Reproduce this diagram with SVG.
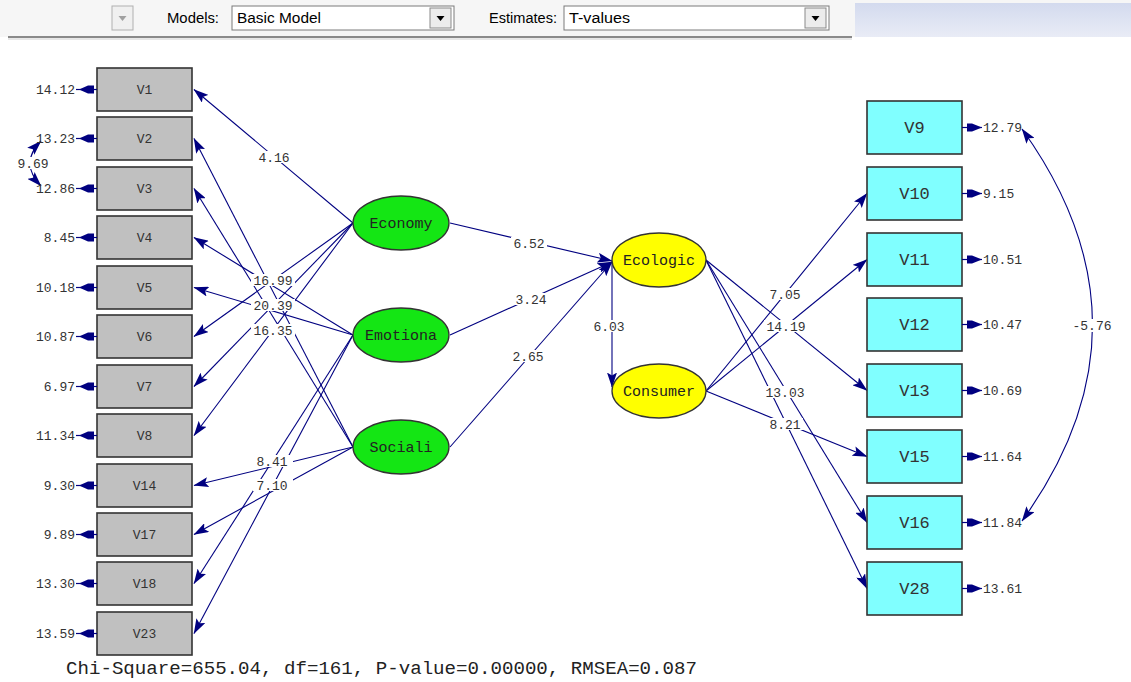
<svg xmlns="http://www.w3.org/2000/svg" width="1131" height="682" viewBox="0 0 1131 682">
<defs>
<linearGradient id="pg" x1="0" y1="0" x2="0" y2="1"><stop offset="0" stop-color="#d3daee"/><stop offset="1" stop-color="#e9ecf6"/></linearGradient>
<marker id="ah" markerWidth="15" markerHeight="10" refX="14.5" refY="5" orient="auto-start-reverse" markerUnits="userSpaceOnUse"><path d="M0,0 L15,5 L0,10 L3,5 Z" fill="#000080"/></marker>
</defs>
<style>
.tb{font-family:"Liberation Sans",Arial,sans-serif;font-size:14px;fill:#000}
.cn line,.cn path{stroke:#000080;stroke-width:1.1;fill:none}
.arr{marker-end:url(#ah)}
.lb{font-family:"Liberation Mono","Courier New",monospace;font-size:13px;fill:#333;text-anchor:middle}
.lbg{fill:#fff}
.bx{fill:#c0c0c0;stroke:#333;stroke-width:1.6}
.bxr{fill:#80ffff;stroke:#333;stroke-width:1.6}
.bt{font-family:"Liberation Mono","Courier New",monospace;font-size:13px;fill:#333;text-anchor:middle}
.btr{font-family:"Liberation Mono","Courier New",monospace;font-size:17px;fill:#333;text-anchor:middle}
.eg{fill:#14e614;stroke:#333;stroke-width:1.3}
.ey{fill:#ffff00;stroke:#333;stroke-width:1.3}
.et{font-family:"Liberation Mono","Courier New",monospace;font-size:15px;fill:#222;text-anchor:middle}
.er{font-family:"Liberation Mono","Courier New",monospace;font-size:13px;fill:#333}
.ea{stroke:#000080;stroke-width:1.2}
.eh{fill:#000080}
</style>
<rect width="1131" height="682" fill="#fff"/>
<!-- toolbar -->
<g id="toolbar">
<rect x="0" y="0" width="1131" height="37" fill="#f6f6f6"/>
<rect x="112" y="6" width="21" height="24" fill="#f0f0f0" stroke="#b0b0b0"/>
<path d="M118.5,16 L126.5,16 L122.5,21 Z" fill="#a0a0a0"/>
<text class="tb" x="167" y="23" textLength="52" lengthAdjust="spacingAndGlyphs">Models:</text>
<rect x="232" y="6" width="222" height="24" fill="#fff" stroke="#7a7a7a"/>
<text class="tb" x="237" y="23" textLength="84" lengthAdjust="spacingAndGlyphs">Basic Model</text>
<rect x="430" y="8" width="21" height="20" fill="#ececec" stroke="#8a8a8a"/>
<path d="M436.5,16 L444.5,16 L440.5,21 Z" fill="#000"/>
<text class="tb" x="489" y="23" textLength="68" lengthAdjust="spacingAndGlyphs">Estimates:</text>
<rect x="564" y="6" width="265" height="24" fill="#fff" stroke="#7a7a7a"/>
<text class="tb" x="569" y="23" textLength="61" lengthAdjust="spacingAndGlyphs">T-values</text>
<rect x="805" y="8" width="21" height="20" fill="#ececec" stroke="#8a8a8a"/>
<path d="M811.5,16 L819.5,16 L815.5,21 Z" fill="#000"/>
<rect x="855" y="3" width="276" height="34" fill="url(#pg)"/>
<line x1="8" y1="37" x2="852" y2="37" stroke="#8a8a8a" stroke-width="2"/>
<line x1="8" y1="39" x2="852" y2="39" stroke="#d0d0d0" stroke-width="1"/>
</g>
<!-- connectors -->
<g id="connectors" class="cn">
<line class="arr" x1="353" y1="223" x2="194" y2="89.5"/>
<line class="arr" x1="353" y1="447" x2="194" y2="138.5"/>
<line class="arr" x1="353" y1="447" x2="194" y2="188.5"/>
<line class="arr" x1="353" y1="335" x2="194" y2="237.5"/>
<line class="arr" x1="353" y1="335" x2="194" y2="287.5"/>
<line class="arr" x1="353" y1="223" x2="194" y2="336.5"/>
<line class="arr" x1="353" y1="223" x2="194" y2="386.5"/>
<line class="arr" x1="353" y1="223" x2="194" y2="435.5"/>
<line class="arr" x1="353" y1="447" x2="194" y2="485.5"/>
<line class="arr" x1="353" y1="447" x2="194" y2="534.5"/>
<line class="arr" x1="353" y1="335" x2="194" y2="583.5"/>
<line class="arr" x1="353" y1="335" x2="194" y2="633.5"/>
<line class="arr" x1="450" y1="223" x2="612" y2="261"/>
<line class="arr" x1="450" y1="335" x2="612" y2="262"/>
<line class="arr" x1="450" y1="447" x2="612" y2="262"/>
<line class="arr" x1="612" y1="262" x2="612" y2="387"/>
<line class="arr" x1="706" y1="391" x2="867" y2="193.5"/>
<line class="arr" x1="706" y1="391" x2="867" y2="259.5"/>
<line class="arr" x1="706" y1="260" x2="867" y2="390.5"/>
<line class="arr" x1="706" y1="391" x2="867" y2="456.5"/>
<line class="arr" x1="706" y1="260" x2="867" y2="522.5"/>
<line class="arr" x1="706" y1="260" x2="867" y2="588.5"/>
<path class="arr" style="marker-start:url(#ah)" d="M1022,129 Q1163,325 1022,521"/>
<path class="arr" style="marker-start:url(#ah)" d="M41,141 Q19,163 41,186"/>
</g>
<!-- path labels -->
<g id="labels">
<rect class="lbg" x="256" y="151" width="36" height="12"/><text class="lb" x="274" y="161.5">4.16</text>
<rect class="lbg" x="251" y="274" width="44" height="12"/><text class="lb" x="273" y="285">16.99</text>
<rect class="lbg" x="251" y="299" width="44" height="12"/><text class="lb" x="273" y="310">20.39</text>
<rect class="lbg" x="251" y="324" width="44" height="12"/><text class="lb" x="273" y="335">16.35</text>
<rect class="lbg" x="253" y="455" width="40" height="12"/><text class="lb" x="272" y="465.5">8.41</text>
<rect class="lbg" x="253" y="479" width="40" height="12"/><text class="lb" x="272" y="489.5">7.10</text>
<rect class="lbg" x="511" y="237" width="36" height="12"/><text class="lb" x="529" y="247.5">6.52</text>
<rect class="lbg" x="513" y="293" width="36" height="12"/><text class="lb" x="531" y="303.5">3.24</text>
<rect class="lbg" x="510" y="350" width="36" height="12"/><text class="lb" x="528" y="360.5">2.65</text>
<rect class="lbg" x="591" y="320" width="36" height="12"/><text class="lb" x="609" y="330.5">6.03</text>
<rect class="lbg" x="767" y="288" width="36" height="12"/><text class="lb" x="785" y="298.5">7.05</text>
<rect class="lbg" x="764" y="320" width="44" height="12"/><text class="lb" x="786" y="331">14.19</text>
<rect class="lbg" x="763" y="386" width="44" height="12"/><text class="lb" x="785" y="396.5">13.03</text>
<rect class="lbg" x="767" y="418" width="36" height="12"/><text class="lb" x="785" y="428.5">8.21</text>
<rect class="lbg" x="1070" y="319" width="44" height="13"/><text class="lb" x="1092" y="330">-5.76</text>
<rect class="lbg" x="15" y="157" width="36" height="12"/><text class="lb" x="33" y="167.5">9.69</text>
</g>
<!-- left observed -->
<g id="V1"><rect class="bx" x="97" y="68" width="95" height="43"/><text class="bt" x="144.5" y="94">V1</text><line class="ea" x1="76" y1="89.5" x2="97" y2="89.5"/><path class="eh" d="M79,89.5 L88,85.5 L94,85.5 L94,93.5 L88,93.5 Z"/><text class="er" x="75" y="94" text-anchor="end">14.12</text></g>
<g id="V2"><rect class="bx" x="97" y="117" width="95" height="43"/><text class="bt" x="144.5" y="143">V2</text><line class="ea" x1="76" y1="138.5" x2="97" y2="138.5"/><path class="eh" d="M79,138.5 L88,134.5 L94,134.5 L94,142.5 L88,142.5 Z"/><text class="er" x="75" y="143" text-anchor="end">13.23</text></g>
<g id="V3"><rect class="bx" x="97" y="167" width="95" height="43"/><text class="bt" x="144.5" y="193">V3</text><line class="ea" x1="76" y1="188.5" x2="97" y2="188.5"/><path class="eh" d="M79,188.5 L88,184.5 L94,184.5 L94,192.5 L88,192.5 Z"/><text class="er" x="75" y="193" text-anchor="end">12.86</text></g>
<g id="V4"><rect class="bx" x="97" y="216" width="95" height="43"/><text class="bt" x="144.5" y="242">V4</text><line class="ea" x1="76" y1="237.5" x2="97" y2="237.5"/><path class="eh" d="M79,237.5 L88,233.5 L94,233.5 L94,241.5 L88,241.5 Z"/><text class="er" x="75" y="242" text-anchor="end">8.45</text></g>
<g id="V5"><rect class="bx" x="97" y="266" width="95" height="43"/><text class="bt" x="144.5" y="292">V5</text><line class="ea" x1="76" y1="287.5" x2="97" y2="287.5"/><path class="eh" d="M79,287.5 L88,283.5 L94,283.5 L94,291.5 L88,291.5 Z"/><text class="er" x="75" y="292" text-anchor="end">10.18</text></g>
<g id="V6"><rect class="bx" x="97" y="315" width="95" height="43"/><text class="bt" x="144.5" y="341">V6</text><line class="ea" x1="76" y1="336.5" x2="97" y2="336.5"/><path class="eh" d="M79,336.5 L88,332.5 L94,332.5 L94,340.5 L88,340.5 Z"/><text class="er" x="75" y="341" text-anchor="end">10.87</text></g>
<g id="V7"><rect class="bx" x="97" y="365" width="95" height="43"/><text class="bt" x="144.5" y="391">V7</text><line class="ea" x1="76" y1="386.5" x2="97" y2="386.5"/><path class="eh" d="M79,386.5 L88,382.5 L94,382.5 L94,390.5 L88,390.5 Z"/><text class="er" x="75" y="391" text-anchor="end">6.97</text></g>
<g id="V8"><rect class="bx" x="97" y="414" width="95" height="43"/><text class="bt" x="144.5" y="440">V8</text><line class="ea" x1="76" y1="435.5" x2="97" y2="435.5"/><path class="eh" d="M79,435.5 L88,431.5 L94,431.5 L94,439.5 L88,439.5 Z"/><text class="er" x="75" y="440" text-anchor="end">11.34</text></g>
<g id="V14"><rect class="bx" x="97" y="464" width="95" height="43"/><text class="bt" x="144.5" y="490">V14</text><line class="ea" x1="76" y1="485.5" x2="97" y2="485.5"/><path class="eh" d="M79,485.5 L88,481.5 L94,481.5 L94,489.5 L88,489.5 Z"/><text class="er" x="75" y="490" text-anchor="end">9.30</text></g>
<g id="V17"><rect class="bx" x="97" y="513" width="95" height="43"/><text class="bt" x="144.5" y="539">V17</text><line class="ea" x1="76" y1="534.5" x2="97" y2="534.5"/><path class="eh" d="M79,534.5 L88,530.5 L94,530.5 L94,538.5 L88,538.5 Z"/><text class="er" x="75" y="539" text-anchor="end">9.89</text></g>
<g id="V18"><rect class="bx" x="97" y="562" width="95" height="43"/><text class="bt" x="144.5" y="588">V18</text><line class="ea" x1="76" y1="583.5" x2="97" y2="583.5"/><path class="eh" d="M79,583.5 L88,579.5 L94,579.5 L94,587.5 L88,587.5 Z"/><text class="er" x="75" y="588" text-anchor="end">13.30</text></g>
<g id="V23"><rect class="bx" x="97" y="612" width="95" height="43"/><text class="bt" x="144.5" y="638">V23</text><line class="ea" x1="76" y1="633.5" x2="97" y2="633.5"/><path class="eh" d="M79,633.5 L88,629.5 L94,629.5 L94,637.5 L88,637.5 Z"/><text class="er" x="75" y="638" text-anchor="end">13.59</text></g>
<!-- latent -->
<g id="Economy"><ellipse class="eg" cx="401" cy="223" rx="48" ry="27"/><text class="et" x="401" y="228">Economy</text></g>
<g id="Emotiona"><ellipse class="eg" cx="401" cy="335" rx="48" ry="27"/><text class="et" x="401" y="340">Emotiona</text></g>
<g id="Sociali"><ellipse class="eg" cx="401" cy="447" rx="48" ry="27"/><text class="et" x="401" y="452">Sociali</text></g>
<g id="Ecologic"><ellipse class="ey" cx="659" cy="260" rx="47" ry="27"/><text class="et" x="659" y="265">Ecologic</text></g>
<g id="Consumer"><ellipse class="ey" cx="659" cy="391" rx="47" ry="27"/><text class="et" x="659" y="396">Consumer</text></g>
<!-- right observed -->
<g id="V9"><rect class="bxr" x="867" y="101" width="95" height="53"/><text class="btr" x="914.5" y="133">V9</text><line class="ea" x1="962" y1="127.5" x2="982" y2="127.5"/><path class="eh" d="M967,123.5 L972,123.5 L982,127.5 L972,131.5 L967,131.5 Z"/><text class="er" x="983" y="132">12.79</text></g>
<g id="V10"><rect class="bxr" x="867" y="167" width="95" height="53"/><text class="btr" x="914.5" y="199">V10</text><line class="ea" x1="962" y1="193.5" x2="982" y2="193.5"/><path class="eh" d="M967,189.5 L972,189.5 L982,193.5 L972,197.5 L967,197.5 Z"/><text class="er" x="983" y="198">9.15</text></g>
<g id="V11"><rect class="bxr" x="867" y="233" width="95" height="53"/><text class="btr" x="914.5" y="265">V11</text><line class="ea" x1="962" y1="259.5" x2="982" y2="259.5"/><path class="eh" d="M967,255.5 L972,255.5 L982,259.5 L972,263.5 L967,263.5 Z"/><text class="er" x="983" y="264">10.51</text></g>
<g id="V12"><rect class="bxr" x="867" y="298" width="95" height="53"/><text class="btr" x="914.5" y="330">V12</text><line class="ea" x1="962" y1="324.5" x2="982" y2="324.5"/><path class="eh" d="M967,320.5 L972,320.5 L982,324.5 L972,328.5 L967,328.5 Z"/><text class="er" x="983" y="329">10.47</text></g>
<g id="V13"><rect class="bxr" x="867" y="364" width="95" height="53"/><text class="btr" x="914.5" y="396">V13</text><line class="ea" x1="962" y1="390.5" x2="982" y2="390.5"/><path class="eh" d="M967,386.5 L972,386.5 L982,390.5 L972,394.5 L967,394.5 Z"/><text class="er" x="983" y="395">10.69</text></g>
<g id="V15"><rect class="bxr" x="867" y="430" width="95" height="53"/><text class="btr" x="914.5" y="462">V15</text><line class="ea" x1="962" y1="456.5" x2="982" y2="456.5"/><path class="eh" d="M967,452.5 L972,452.5 L982,456.5 L972,460.5 L967,460.5 Z"/><text class="er" x="983" y="461">11.64</text></g>
<g id="V16"><rect class="bxr" x="867" y="496" width="95" height="53"/><text class="btr" x="914.5" y="528">V16</text><line class="ea" x1="962" y1="522.5" x2="982" y2="522.5"/><path class="eh" d="M967,518.5 L972,518.5 L982,522.5 L972,526.5 L967,526.5 Z"/><text class="er" x="983" y="527">11.84</text></g>
<g id="V28"><rect class="bxr" x="867" y="562" width="95" height="53"/><text class="btr" x="914.5" y="594">V28</text><line class="ea" x1="962" y1="588.5" x2="982" y2="588.5"/><path class="eh" d="M967,584.5 L972,584.5 L982,588.5 L972,592.5 L967,592.5 Z"/><text class="er" x="983" y="593">13.61</text></g>
<text x="66" y="674" font-family="Liberation Mono, Courier New, monospace" font-size="18" fill="#222" textLength="631" lengthAdjust="spacingAndGlyphs">Chi-Square=655.04, df=161, P-value=0.00000, RMSEA=0.087</text>
</svg>
